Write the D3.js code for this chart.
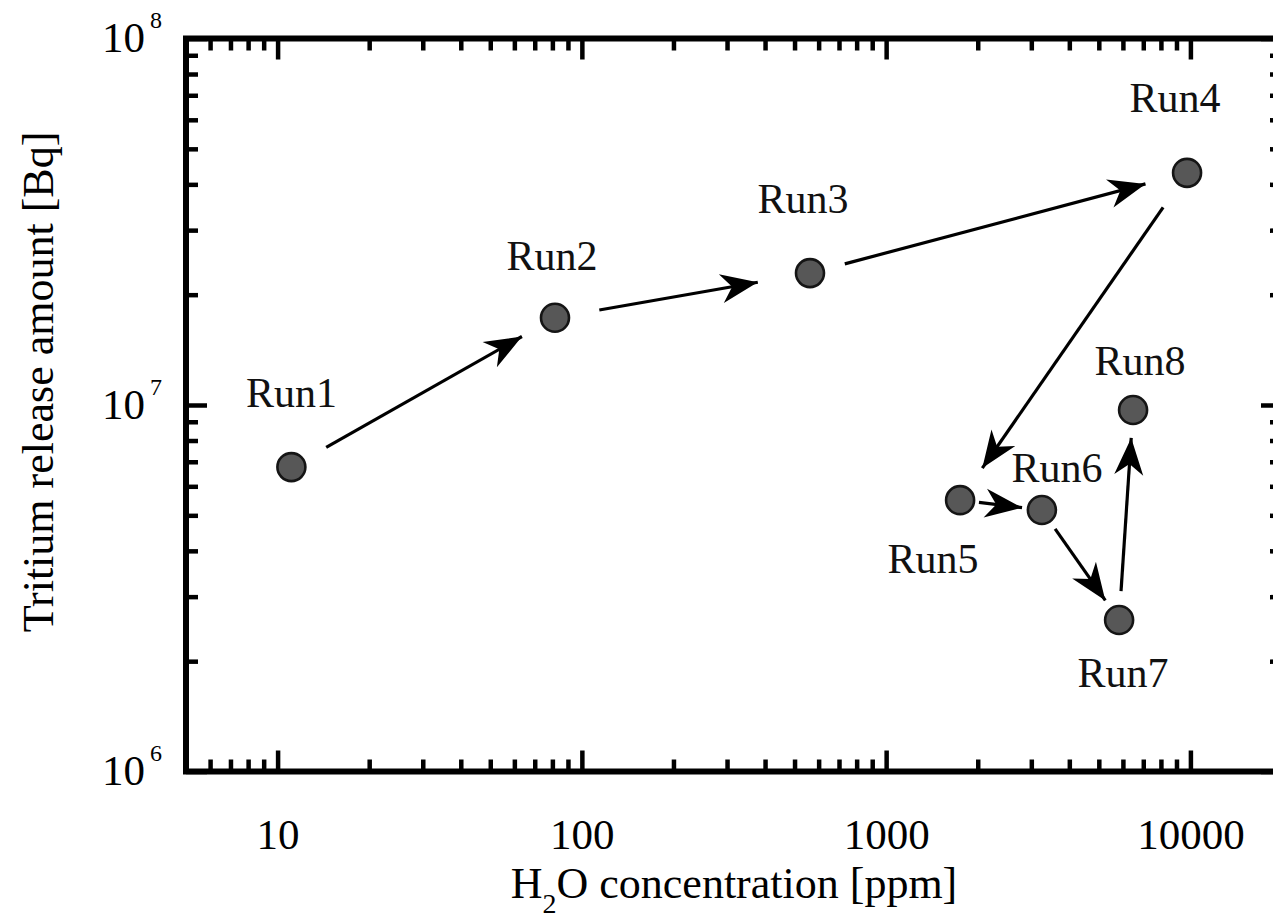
<!DOCTYPE html>
<html>
<head>
<meta charset="utf-8">
<script src="https://cdn.jsdelivr.net/npm/d3@7"></script>
<style>
  body { margin: 0; background: #fff; }
  svg { display: block; }
</style>
</head>
<body>
<svg id="chart" width="1273" height="923"></svg>
<script>
// data
const runNames = ["Run1", "Run2", "Run3", "Run4", "Run5", "Run6", "Run7", "Run8"];
const h2oPpm = [11.1, 81.6, 562, 9750, 1750, 3250, 5830, 6480];
const tritiumBq = [6.77e6, 1.73e7, 2.29e7, 4.30e7, 5.5e6, 5.17e6, 2.59e6, 9.69e6];
const sequence = [[0, 1], [1, 2], [2, 3], [3, 4], [4, 5], [5, 6], [6, 7]];
const xTickLabels = [10, 100, 1000, 10000];
const yTickExps = [6, 7, 8];

// layout only (pixels)
const labelOffsets = [[0, -60], [-3, -48], [-7, -60], [-12, -61], [-27, 73], [15, -28], [4, 67], [7, -35]];
const arrowTrims = [[40, 38], [45, 53], [36, 43], [42, 39], [19, 20], [23, 24], [29, 28]];

const serif = "'Liberation Serif', 'Times New Roman', serif";
const svg = d3.select("#chart");

const plotLeft = 186, plotRight = 1282, plotTop = 38.5, plotBottom = 771.5;

let xScale = d3.scaleLog().domain([5, 20000]).range([plotLeft, plotRight]);
let yScale = d3.scaleLog().domain([1e6, 1e8]).range([plotBottom, plotTop]);

function logTicks(lo, hi) {
  let out = [];
  for (let e = Math.floor(Math.log10(lo)); e <= Math.ceil(Math.log10(hi)); e++) {
    for (let m = 1; m < 10; m++) {
      let v = m * Math.pow(10, e);
      if (v >= lo && v <= hi) out.push(v);
    }
  }
  return out;
}
const xMinor = logTicks(5, 20000).filter(v => !xTickLabels.includes(v));
const yMajor = yTickExps.map(e => Math.pow(10, e));
const yMinor = logTicks(1e6, 1e8).filter(v => !yMajor.includes(v));

function styleAxis(g) {
  g.select(".domain").remove();
  g.selectAll("line").attr("stroke", "#000").attr("stroke-width", 4.5);
}

// ticks (inward, mirrored on all four sides)
svg.append("g").attr("transform", `translate(0,${plotBottom})`)
  .call(d3.axisBottom(xScale).tickValues(xMinor).tickSize(-12).tickFormat(""))
  .call(styleAxis);
svg.append("g").attr("transform", `translate(0,${plotBottom})`)
  .call(d3.axisBottom(xScale).tickValues(xTickLabels).tickSize(-21).tickPadding(47).tickFormat(d3.format("d")))
  .call(styleAxis)
  .selectAll("text").attr("font-family", serif).attr("font-size", 43).attr("fill", "#000");
svg.append("g").attr("transform", `translate(0,${plotTop})`)
  .call(d3.axisTop(xScale).tickValues(xMinor).tickSize(-12).tickFormat(""))
  .call(styleAxis);
svg.append("g").attr("transform", `translate(0,${plotTop})`)
  .call(d3.axisTop(xScale).tickValues(xTickLabels).tickSize(-21).tickFormat(""))
  .call(styleAxis);

svg.append("g").attr("transform", `translate(${plotLeft},0)`)
  .call(d3.axisLeft(yScale).tickValues(yMinor).tickSize(-12).tickFormat(""))
  .call(styleAxis);
svg.append("g").attr("transform", `translate(${plotLeft},0)`)
  .call(d3.axisLeft(yScale).tickValues(yMajor).tickSize(-21).tickFormat(""))
  .call(styleAxis);
svg.append("g").attr("transform", `translate(${plotRight},0)`)
  .call(d3.axisRight(yScale).tickValues(yMinor).tickSize(-12).tickFormat(""))
  .call(styleAxis);
svg.append("g").attr("transform", `translate(${plotRight},0)`)
  .call(d3.axisRight(yScale).tickValues(yMajor).tickSize(-21).tickFormat(""))
  .call(styleAxis);

// y tick labels as 10^n
let yLab = svg.append("g").selectAll("text")
  .data(yTickExps)
  .join("text")
  .attr("x", 162)
  .attr("y", e => yScale(Math.pow(10, e)) + 13.5)
  .attr("text-anchor", "end")
  .attr("font-family", serif)
  .attr("fill", "#000");
yLab.append("tspan").attr("font-size", 43).text("10");
yLab.append("tspan").attr("font-size", 24).attr("dx", 5).attr("dy", -24).text(e => e);

// frame
svg.append("rect")
  .attr("x", plotLeft).attr("y", plotTop)
  .attr("width", plotRight - plotLeft).attr("height", plotBottom - plotTop)
  .attr("fill", "none").attr("stroke", "#000").attr("stroke-width", 6);

// axis titles
let xt = svg.append("text")
  .attr("x", (plotLeft + plotRight) / 2).attr("y", 898)
  .attr("text-anchor", "middle")
  .attr("font-family", serif).attr("font-size", 44).attr("fill", "#000");
xt.append("tspan").text("H");
xt.append("tspan").attr("font-size", 28).attr("dy", 15).text("2");
xt.append("tspan").attr("dy", -15).text("O concentration [ppm]");

svg.append("text")
  .attr("transform", "translate(53,382) rotate(-90)")
  .attr("text-anchor", "middle")
  .attr("font-family", serif).attr("font-size", 44).attr("fill", "#000")
  .text("Tritium release amount [Bq]");

// arrows
svg.append("defs").append("marker")
  .attr("id", "head")
  .attr("markerUnits", "userSpaceOnUse")
  .attr("markerWidth", 60).attr("markerHeight", 60)
  .attr("viewBox", "-45 -30 60 60")
  .attr("refX", 0).attr("refY", 0)
  .attr("orient", "auto")
  .append("path")
  .attr("d", "M0,0 L-37,-14.5 L-26,0 L-37,14.5 Z")
  .attr("fill", "#000");

let pts = runNames.map((n, i) => [xScale(h2oPpm[i]), yScale(tritiumBq[i])]);

svg.append("g").selectAll("line")
  .data(sequence)
  .join("line")
  .each(function (d, i) {
    let a = pts[d[0]], b = pts[d[1]];
    let dx = b[0] - a[0], dy = b[1] - a[1];
    let len = Math.sqrt(dx * dx + dy * dy);
    let ux = dx / len, uy = dy / len;
    d3.select(this)
      .attr("x1", a[0] + ux * arrowTrims[i][0])
      .attr("y1", a[1] + uy * arrowTrims[i][0])
      .attr("x2", b[0] - ux * arrowTrims[i][1])
      .attr("y2", b[1] - uy * arrowTrims[i][1]);
  })
  .attr("stroke", "#000")
  .attr("stroke-width", 3.2)
  .attr("marker-end", "url(#head)");

// points
svg.append("g").selectAll("circle")
  .data(runNames)
  .join("circle")
  .attr("cx", (d, i) => xScale(h2oPpm[i]))
  .attr("cy", (d, i) => yScale(tritiumBq[i]))
  .attr("r", 14)
  .attr("fill", "#575757")
  .attr("stroke", "#151515")
  .attr("stroke-width", 2.6);

// labels
svg.append("g").selectAll("text")
  .data(runNames)
  .join("text")
  .attr("x", (d, i) => xScale(h2oPpm[i]) + labelOffsets[i][0])
  .attr("y", (d, i) => yScale(tritiumBq[i]) + labelOffsets[i][1])
  .attr("text-anchor", "middle")
  .attr("font-family", serif)
  .attr("font-size", 42)
  .attr("fill", "#111")
  .text(d => d);
</script>
</body>
</html>
